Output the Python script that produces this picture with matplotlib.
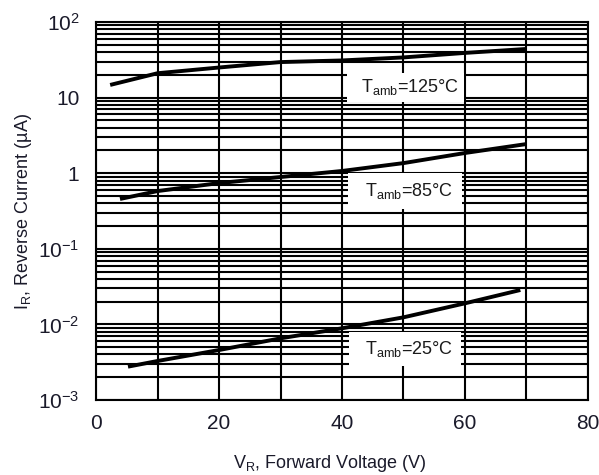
import matplotlib
matplotlib.use("Agg")
import matplotlib.pyplot as plt
from matplotlib.ticker import FixedLocator, LogLocator, NullFormatter, FixedFormatter

plt.rcParams['font.family'] = ['Liberation Sans', 'DejaVu Sans']
plt.rcParams['mathtext.fontset'] = 'custom'
plt.rcParams['mathtext.rm'] = 'Liberation Sans'
plt.rcParams['mathtext.it'] = 'Liberation Sans'
plt.rcParams['mathtext.default'] = 'regular'

# Data
v_125 = [2.3, 10, 20, 30, 40, 50, 60, 70]
i_125 = [14.7, 21, 25, 29.5, 31, 34, 39, 44]
v_85 = [3.9, 10, 20, 30, 40, 50, 60, 70]
i_85 = [0.456, 0.58, 0.74, 0.89, 1.07, 1.36, 1.85, 2.43]
v_25 = [5.2, 10, 20, 30, 40, 50, 60, 69]
i_25 = [0.00276, 0.00328, 0.00458, 0.00654, 0.00888, 0.0124, 0.019, 0.0285]

labels = ['T$_{amb}$=125°C', 'T$_{amb}$=85°C', 'T$_{amb}$=25°C']
label_pos = [(50.4, 13.8), (50.2, 0.58), (50.2, 0.00473)]
label_pads = [0.25, 0.45, 0.4]

x_ticks = [0, 20, 40, 60, 80]
y_ticks = [1e-3, 1e-2, 1e-1, 1, 10, 100]
y_ticklabels = ['$10^{-3}$', '$10^{-2}$', '$10^{-1}$', '1', '10', '$10^{2}$']

fig = plt.figure(figsize=(5.99, 4.75), dpi=100)
ax = fig.add_axes([0.1603, 0.1579, 0.9816 - 0.1603, 0.9537 - 0.1579])

ax.set_yscale('log')
ax.set_xlim(0, 80)
ax.set_ylim(1e-3, 1e2)

ax.xaxis.set_major_locator(FixedLocator(x_ticks))
ax.xaxis.set_minor_locator(FixedLocator([10, 30, 50, 70]))
ax.yaxis.set_major_locator(FixedLocator(y_ticks))
ax.yaxis.set_major_formatter(FixedFormatter(y_ticklabels))
ax.yaxis.set_minor_locator(LogLocator(base=10, subs=range(2, 10), numticks=20))
ax.yaxis.set_minor_formatter(NullFormatter())

ax.grid(True, which='both', color='black', linewidth=1.5)
ax.set_axisbelow(True)
ax.tick_params(which='both', length=0, labelsize=15, colors='#1a1a2a')
ax.tick_params(axis='y', pad=12)
ax.tick_params(axis='x', pad=10)
for s in ax.spines.values():
    s.set_linewidth(1.5)

for v, i in [(v_125, i_125), (v_85, i_85), (v_25, i_25)]:
    ax.plot(v, i, color='black', linewidth=2.8, solid_capstyle='butt', zorder=3)

for lab, (x, y), p in zip(labels, label_pos, label_pads):
    ax.text(x, y, '\u2002' + lab + '\u2002', ha='center', va='center', fontsize=13,
            color='#1a1a1a', zorder=4,
            bbox=dict(boxstyle='square,pad=%s' % p, facecolor='white', edgecolor='none'))

ax.set_xlabel('V$_R$, Forward Voltage (V)', fontsize=13, color='#1a1a2a')
ax.xaxis.set_label_coords(0.476, -0.140)
ax.set_ylabel('I$_R$, Reverse Current (µA)', fontsize=13, color='#1a1a2a', labelpad=3)

fig.savefig('out.png', dpi=100)
